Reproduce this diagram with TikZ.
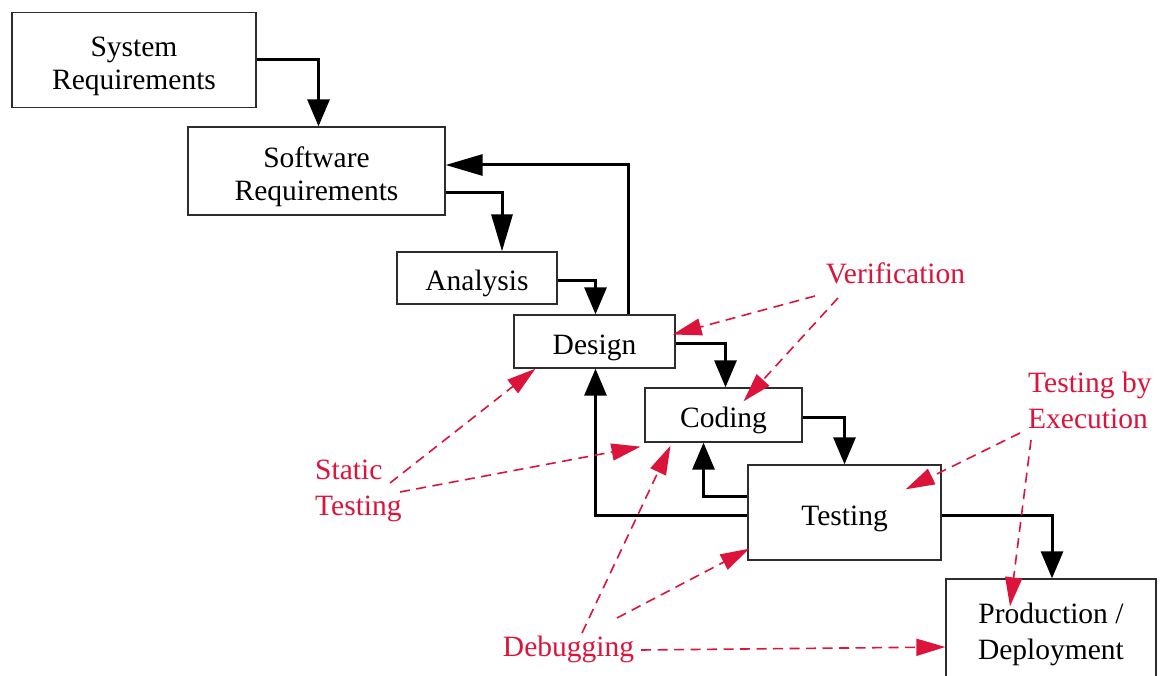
\documentclass[tikz,border=0pt]{standalone}
\usepackage{fontspec}
\setmainfont{Liberation Serif}
\usetikzlibrary{arrows.meta}
\definecolor{note}{RGB}{220,20,60}
\definecolor{boxline}{RGB}{45,45,45}
% centred stage caption, set slightly below the box centre
\newcommand{\stagetext}[1]{\raisebox{-6pt}[\height][\depth]{\begin{tabular}{@{}c@{}}#1\end{tabular}}}
% left-aligned annotation caption
\newcommand{\notetext}[1]{\begin{tabular}{@{}l@{}}#1\end{tabular}}
\begin{document}
\begin{tikzpicture}[x=1pt,y=-1pt,
  every node/.style={font=\fontsize{29.5}{33}\selectfont},
  stage/.style={draw=boxline,line width=1.3pt,fill=white,inner sep=0pt},
  flow/.style={line width=3pt,-{Triangle[length=27pt,width=22pt]}},
  longflow/.style={line width=3pt,-{Triangle[length=37pt,width=21pt]}},
  remark/.style={text=note,inner sep=0pt,font=\fontsize{29.5}{36.5}\selectfont},
  hint/.style={note,line width=1.6pt,dash pattern=on 10pt off 6.5pt,-{Triangle[length=29pt,width=17pt]}}]
\clip (0,0) rectangle (1166,676);
\fill[white] (0,0) rectangle (1166,676);

% process stages
\node[stage,minimum width=244pt,minimum height=95pt] (sys) at (134,60) {\stagetext{System\\Requirements}};
\node[stage,minimum width=257pt,minimum height=88pt] (sw) at (316.5,171) {\stagetext{Software\\Requirements}};
\node[stage,minimum width=160pt,minimum height=52pt] (ana) at (477,278) {\stagetext{Analysis}};
\node[stage,minimum width=161pt,minimum height=53pt] (des) at (594.5,341.5) {\stagetext{Design}};
\node[stage,minimum width=157pt,minimum height=54pt] (cod) at (723.5,415) {\stagetext{Coding}};
\node[stage,minimum width=193pt,minimum height=95pt] (tst) at (844.5,512.5) {\stagetext{Testing}};
\node[stage,minimum width=210pt,minimum height=110pt,font=\fontsize{29.5}{36}\selectfont] (prod) at (1051,634) {\begin{tabular}{@{}c@{}}Production /\\Deployment\end{tabular}};

% forward flow
\draw[flow] (sys.east) -| ([xshift=2pt]sw.north);
\draw[longflow] ([yshift=-22pt]sw.east) -| ([xshift=25pt]ana.north);
\draw[flow] ([yshift=-2pt]ana.east) -| ([xshift=1pt]des.north);
\draw[flow] ([yshift=-2pt]des.east) -| ([xshift=2pt]cod.north);
\draw[flow] ([yshift=-2pt]cod.east) -| (tst.north);
\draw[flow] ([yshift=-3pt]tst.east) -| ([xshift=1pt]prod.north);

% feedback flow
\draw[longflow] ([xshift=34pt]des.north) |- ([yshift=6pt]sw.east);
\draw[flow] ([yshift=16pt]tst.west) -| ([xshift=-20pt]cod.south);
\draw[flow] ([yshift=-3pt]tst.west) -| ([xshift=1pt]des.south);

% annotations
\node[remark] (ver) at (895.5,273) {Verification};
\node[remark,anchor=west] (stat) at (315,490) {\notetext{Static\\Testing}};
\node[remark] (dbg) at (568.5,649) {Debugging};
\node[remark,anchor=west] (exe) at (1028,403) {\notetext{Testing by\\Execution}};

\coordinate (ver1) at (815,296);
\coordinate (ver2) at (838,298);
\coordinate (stat1) at (390,483);
\coordinate (stat2) at (400,492);
\coordinate (dbg1) at (582,633);
\coordinate (dbg2) at (617,618);
\coordinate (dbg3) at (641,650);
\coordinate (exe1) at (1020,433);
\coordinate (exe2) at (1031,440);

\draw[hint] (ver1) -- ([shift={(-3pt,7pt)}]des.east);
\draw[hint] (ver2) -- ([shift={(20pt,-14pt)}]cod.north);
\draw[hint] (stat1) -- ([xshift=-59pt]des.south);
\draw[hint] (stat2) -- ([shift={(-83pt,-4pt)}]cod.south);
\draw[hint] (dbg1) -- ([shift={(-53pt,-3pt)}]cod.south);
\draw[hint] (dbg2) -- ([shift={(2pt,12pt)}]tst.south west);
\draw[hint] (dbg3) -- ([yshift=-13pt]prod.west);
\draw[hint] (exe1) -- ([shift={(-36pt,-25pt)}]tst.north east);
\draw[hint] (exe2) -- ([shift={(-41pt,-28pt)}]prod.north);
\end{tikzpicture}
\end{document}
